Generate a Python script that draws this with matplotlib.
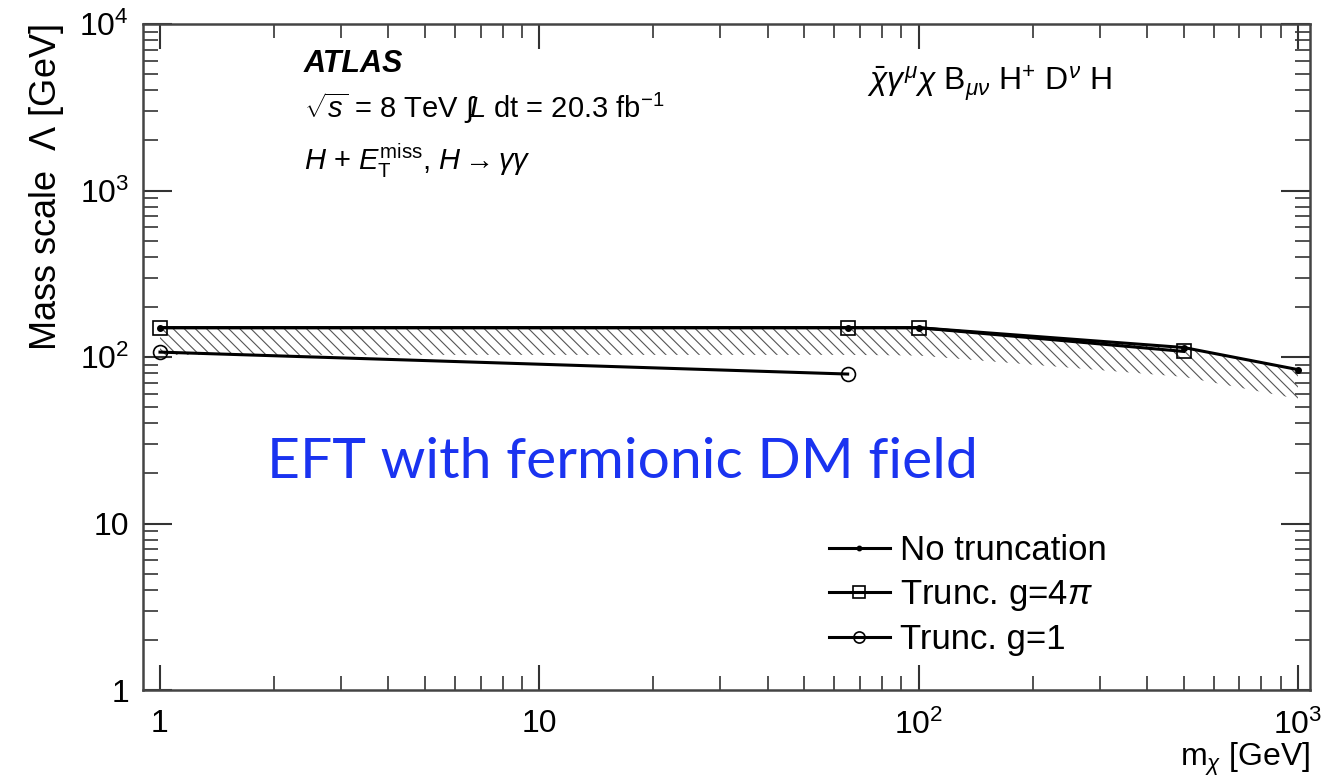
import matplotlib
matplotlib.use("Agg")
import matplotlib.pyplot as plt
import numpy as np

plt.rcParams['font.family'] = ['Liberation Sans', 'DejaVu Sans']
plt.rcParams['mathtext.fontset'] = 'custom'
plt.rcParams['mathtext.rm'] = 'Liberation Sans'
plt.rcParams['mathtext.it'] = 'Liberation Sans:italic'
plt.rcParams['mathtext.bf'] = 'Liberation Sans:bold'
plt.rcParams['hatch.linewidth'] = 0.8

# data
mass_notrunc = [1, 65, 100, 500, 1000]
lam_notrunc = [150, 150, 150, 114, 84]
mass_g4pi = [1, 65, 100, 500]
lam_g4pi = [150, 150, 150, 108]
mass_g1 = [1, 65]
lam_g1 = [107, 79]
hatch_lower = [103, 103, 102, 76, 56]

fig = plt.figure(figsize=(13.34, 7.83), dpi=100)
ax = fig.add_axes([143 / 1334, 1 - 690 / 783, (1310 - 143) / 1334, (690 - 24) / 783])

ax.fill_between(mass_notrunc, hatch_lower, lam_notrunc, facecolor='none',
                edgecolor='#555555', hatch='\\\\\\', linewidth=0)
ax.plot(mass_notrunc, lam_notrunc, color='black', lw=2.2, marker='o', ms=4,
        label='No truncation')
ax.plot(mass_g4pi, lam_g4pi, color='black', lw=2.2, marker='s', ms=10,
        mfc='none', mew=1.2, label=r'Trunc. g=4$\pi$')
ax.plot(mass_g1, lam_g1, color='black', lw=2.2, marker='o', ms=10,
        mfc='none', mew=1.2, label='Trunc. g=1')

ax.set_xscale('log')
ax.set_yscale('log')
ax.set_xlim(0.902, 1076)
ax.set_ylim(1, 1e4)

ax.set_xticks([1, 10, 100, 1000])
ax.set_xticklabels(['1', '10', r'$10^2$', r'$10^3$'])
ax.set_yticks([1, 10, 100, 1000, 10000])
ax.set_yticklabels(['1', '10', r'$10^2$', r'$10^3$', r'$10^4$'])
ax.tick_params(which='both', direction='in', top=True, right=True, labelsize=23,
               color='#333333')
ax.tick_params(axis='x', which='major', length=18, width=1.5, pad=14)
ax.tick_params(axis='x', which='minor', length=10, width=1.2)
ax.tick_params(axis='y', which='major', length=21, width=1.5, pad=10)
ax.tick_params(axis='y', which='minor', length=11, width=1.2)
for s in ax.spines.values():
    s.set_linewidth(1.8)
    s.set_color('#444444')

ax.set_ylabel(r'Mass scale  $\Lambda$ [GeV]', fontsize=26, loc='top', labelpad=10)
ax.set_xlabel(r'm$_\chi$ [GeV]', fontsize=23, loc='right', labelpad=0)

ax.text(0.138, 0.94, 'ATLAS', transform=ax.transAxes, fontsize=22,
        fontweight='bold', fontstyle='italic', va='center')
ax.text(0.138, 0.873, r'$\sqrt{s}$ = 8 TeV $\int\!L$ dt = 20.3 fb$^{-1}$',
        transform=ax.transAxes, fontsize=21, va='center')
ax.text(0.138, 0.795, r'$H$ + $E_{\mathrm{T}}^{\mathrm{miss}}$, $H\rightarrow\gamma\gamma$',
        transform=ax.transAxes, fontsize=21, va='center')
ax.text(0.62, 0.91, r'$\bar{\chi}\gamma^{\mu}\chi$ B$_{\mu\nu}$ H$^{+}$ D$^{\nu}$ H',
        transform=ax.transAxes, fontsize=23, va='center')

ax.text(0.411, 0.341, 'EFT with fermionic DM field', transform=ax.transAxes,
        fontsize=41, color='#1a33f0', ha='center', va='center', family='Lato')

ax.legend(loc='lower left', bbox_to_anchor=(0.561, 0.004), frameon=False,
          fontsize=25, handlelength=1.75, handletextpad=0.3, labelspacing=0.3,
          markerscale=0.8)

fig.savefig('out.png', dpi=100)
